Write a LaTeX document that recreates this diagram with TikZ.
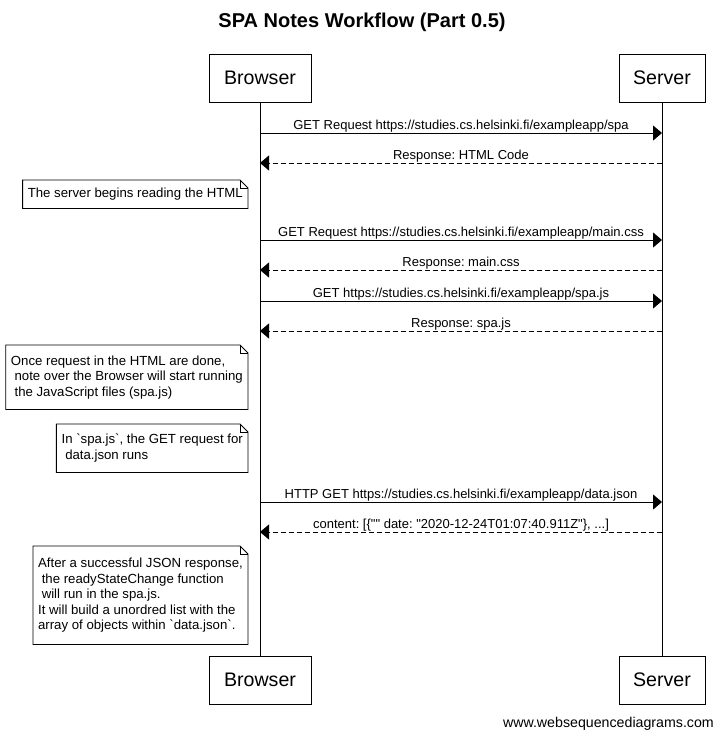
\documentclass[tikz,border=0pt]{standalone}
\usepackage{fontspec}
\setmainfont{Liberation Sans}[Ligatures=TeXOff]
\frenchspacing
\usetikzlibrary{arrows.meta}
\newcommand\dogear[1]{%
  \draw[line width=0.8pt] (#1.north west) -- ([xshift=-8pt]#1.north east) -- ([yshift=-8pt]#1.north east) -- (#1.south east) -- (#1.south west) -- cycle;
  \draw[line width=0.8pt] ([xshift=-8pt]#1.north east) |- ([yshift=-8pt]#1.north east);}
\begin{document}
\begin{tikzpicture}[x=1pt,y=-1pt,
  actor/.style={draw, line width=1pt, minimum height=48pt, inner sep=0pt, font=\fontsize{19.6}{22}\selectfont},
  life/.style={line width=1pt},
  msg/.style={line width=1pt, -{Triangle[length=9pt,width=15pt]}},
  reply/.style={msg, dash pattern=on 5pt off 3pt},
  lbl/.style={anchor=base, yshift=4pt, inner sep=0pt, font=\fontsize{13}{15.5}\selectfont},
  note/.style={anchor=north east, align=left, inner xsep=5pt, inner ysep=0pt, font=\fontsize{13.2}{15.5}\selectfont}]
\useasboundingbox (0,0) rectangle (722,739);
\fill[white] (0,0) rectangle (722,739);
\node[font=\bfseries\fontsize{20}{24}\selectfont] (title) at (362,22) {SPA Notes Workflow (Part 0.5)};
\node[actor, minimum width=102pt] (bt) at (260,78) {Browser};
\node[actor, minimum width=86pt] (st) at (662,78) {Server};
\node[actor, minimum width=102pt] (bb) at (260,680) {Browser};
\node[actor, minimum width=86pt] (sb) at (662,680) {Server};
\draw[life] (bt.south) -- (bb.north);
\draw[life] (st.south) -- (sb.north);
% lifeline points
\foreach \n/\y in {1/133,2/163,3/240,4/270,5/301,6/331,7/502,8/532}{
  \coordinate (b\n) at (260,\y);
  \coordinate (s\n) at (662,\y);
}
\draw[msg] (b1) -- (s1) node[lbl, pos=0.5] {GET Request https://studies.cs.helsinki.fi/exampleapp/spa};
\draw[reply] (s2) -- (b2) node[lbl, pos=0.5] {Response: HTML Code};
\node[note, minimum height=28pt] (n1) at (248,180) {The server begins reading the HTML};
\dogear{n1}
\draw[msg] (b3) -- (s3) node[lbl, pos=0.5] {GET Request https://studies.cs.helsinki.fi/exampleapp/main.css};
\draw[reply] (s4) -- (b4) node[lbl, pos=0.5] {Response: main.css};
\draw[msg] (b5) -- (s5) node[lbl, pos=0.5] {GET https://studies.cs.helsinki.fi/exampleapp/spa.js};
\draw[reply] (s6) -- (b6) node[lbl, pos=0.5] {Response: spa.js};
\node[note, minimum height=64pt] (n2) at (248,345) {Once request in the HTML are done,\\\ note over the Browser will start running\\\ the JavaScript files (spa.js)};
\dogear{n2}
\node[note, minimum height=48pt] (n3) at (248,424) {In `spa.js`, the GET request for\\\ data.json runs};
\dogear{n3}
\draw[msg] (b7) -- (s7) node[lbl, pos=0.5] {HTTP GET https://studies.cs.helsinki.fi/exampleapp/data.json};
\draw[reply] (s8) -- (b8) node[lbl, pos=0.5] {content: [\{"" date: "2020-12-24T01:07:40.911Z"\}, ...]};
\node[note, minimum height=98pt] (n4) at (248,546) {After a successful JSON response,\\\ the readyStateChange function\\\ will run in the spa.js.\\It will build a unordred list with the\\array of objects within `data.json`.};
\dogear{n4}
\node[anchor=east, inner sep=0pt, font=\fontsize{14.2}{16}\selectfont] (foot) at (714,724) {www.websequencediagrams.com};
\end{tikzpicture}
\end{document}
